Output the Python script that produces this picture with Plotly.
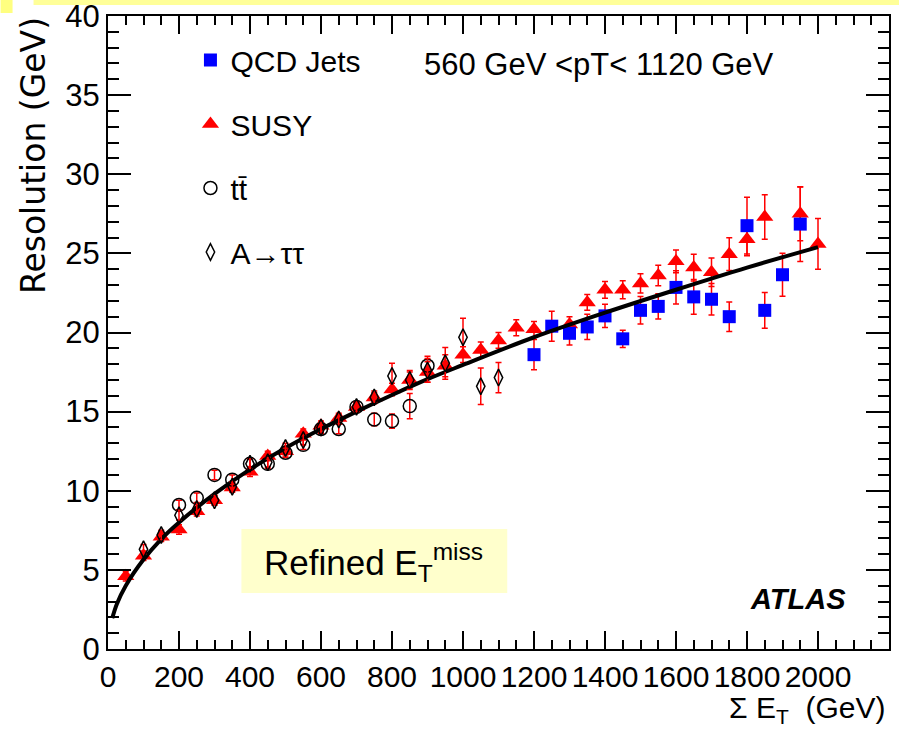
import plotly.graph_objects as go

# ---- data -------------------------------------------------------------
susy_x = [50, 100, 150, 200, 250, 300, 350, 400, 450, 500, 550, 600, 650, 700,
          750, 800, 850, 900, 950, 1000, 1050, 1100, 1150, 1200, 1300, 1350,
          1400, 1450, 1500, 1550, 1600, 1650, 1700, 1750, 1800, 1850, 1950, 2000]
susy_y = [4.6, 5.9, 7.1, 7.55, 8.7, 9.4, 10.2, 11.2, 12.2, 12.5, 13.6, 14.1, 14.6, 15.3,
          15.9, 16.4, 17.0, 17.5, 17.9, 18.6, 18.9, 19.5, 20.3, 20.2, 20.5, 21.9,
          22.7, 22.7, 23.1, 23.6, 24.5, 24.1, 23.8, 24.95, 25.9, 27.3, 27.5, 25.6]
susy_err = [0.3, 0.3, 0.3, 0.3, 0.3, 0.3, 0.3, 0.3, 0.3, 0.3, 0.3, 0.3, 0.3, 0.3,
            0.4, 0.4, 0.5, 0.65, 0.7, 0.5, 0.5, 0.5, 0.5, 0.5, 0.5, 0.5,
            0.53, 0.57, 0.61, 0.65, 0.72, 0.84, 0.9, 1.03, 1.05, 1.4, 1.7, 1.6]

qcd_x = [1200, 1250, 1300, 1350, 1400, 1450, 1500, 1550, 1600, 1650, 1700, 1750,
         1800, 1850, 1900, 1950]
qcd_y = [18.6, 20.4, 19.95, 20.35, 21.05, 19.6, 21.4, 21.65, 22.85, 22.25, 22.1, 21.0,
         26.75, 21.4, 23.65, 26.85]
qcd_err = [0.95, 0.95, 0.74, 0.8, 0.74, 0.55, 0.87, 0.8, 1.05, 1.1, 1.0, 0.93,
           1.79, 1.13, 1.36, 2.36]

ttbar_x = [200, 250, 300, 350, 400, 450, 500, 550, 600, 650, 700, 750, 800, 850, 900]
ttbar_y = [9.1, 9.55, 11.0, 10.7, 11.7, 11.7, 12.4, 12.9, 13.9, 13.9, 15.3, 14.5, 14.4,
           15.35, 17.9]
ttbar_err = [0.3, 0.3, 0.3, 0.3, 0.3, 0.3, 0.3, 0.3, 0.3, 0.3, 0.3, 0.4, 0.45, 0.8, 0.6]

atautau_x = [100, 150, 200, 250, 300, 350, 400, 450, 500, 550, 600, 650, 700, 750,
             800, 850, 900, 950, 1000, 1050, 1100]
atautau_y = [6.3, 7.2, 8.45, 8.85, 9.4, 10.25, 11.7, 11.8, 12.7, 13.2, 14.0, 14.5, 15.3,
             15.9, 17.25, 17.0, 17.6, 18.05, 19.7, 16.6, 17.15]
atautau_err = [0.3, 0.3, 0.3, 0.3, 0.3, 0.3, 0.3, 0.3, 0.3, 0.3, 0.3, 0.3, 0.3, 0.3,
               0.8, 0.6, 0.75, 1.0, 1.2, 1.15, 0.95]

# fitted resolution curve
fit_x = [12, 25, 50, 100, 150, 200, 300, 400, 500, 600, 700, 800, 900, 1000,
         1200, 1400, 1600, 1800, 2000]
fit_y = [1.95, 2.85, 4.0, 5.65, 6.95, 8.0, 9.8, 11.35, 12.7, 13.9, 15.0, 16.05, 17.05,
         17.95, 19.7, 21.25, 22.7, 24.1, 25.4]

x_ticks = [0, 200, 400, 600, 800, 1000, 1200, 1400, 1600, 1800, 2000]
y_ticks = [0, 5, 10, 15, 20, 25, 30, 35, 40]

# ---- figure -----------------------------------------------------------
W, H = 899, 730
L, R, T, B = 107.5, 10, 16, 81
PW, PH = W - L - R, H - T - B


def px(xp):
    return (xp - L) / PW


def py(yp):
    return (H - B - yp) / PH


ERR_RED = "#ff0000"


def err(vals):
    return dict(type="data", array=vals, color=ERR_RED, thickness=1.5, width=3)


fig = go.Figure()

fig.add_trace(go.Scatter(
    x=susy_x, y=susy_y, error_y=err(susy_err), mode="markers", name="SUSY",
    marker=dict(symbol="triangle-up", size=15, color="#ff0000", line=dict(width=0)),
    legendgroup="b", legendrank=2))

fig.add_trace(go.Scatter(
    x=qcd_x, y=qcd_y, error_y=err(qcd_err), mode="markers", name="QCD Jets",
    marker=dict(symbol="square", size=13, color="#0000ff", line=dict(width=0)),
    legendgroup="a", legendrank=1))

fig.add_trace(go.Scatter(
    x=fit_x, y=fit_y, mode="lines", line=dict(color="black", width=4, shape="spline"),
    showlegend=False, hoverinfo="skip"))

fig.add_trace(go.Scatter(
    x=ttbar_x, y=ttbar_y, error_y=err(ttbar_err), mode="markers", name="tt\u0304",
    marker=dict(symbol="circle-open", size=13, color="black", line=dict(width=1.5)),
    legendgroup="c", legendrank=3))

fig.add_trace(go.Scatter(
    x=atautau_x, y=atautau_y, error_y=err(atautau_err), mode="markers",
    name="A\u2192\u03c4\u03c4",
    marker=dict(symbol="diamond-tall-open", size=12, color="black", line=dict(width=1.5)),
    legendgroup="d", legendrank=4))

axis_common = dict(
    showgrid=False, zeroline=False, showline=True, linecolor="black", linewidth=2,
    mirror="ticks", ticks="inside", tickcolor="black", tickwidth=1.5,
    automargin=False,
)

fig.update_xaxes(range=[0, 2200], tickvals=x_ticks, ticktext=[str(v) for v in x_ticks],
                 tickangle=0, ticklen=18,
                 tickfont=dict(family="Liberation Sans, Arial", size=30, color="black"),
                 minor=dict(dtick=50, ticks="inside", ticklen=9,
                            tickcolor="black", tickwidth=1.5),
                 **axis_common)
fig.update_yaxes(range=[0, 40], tickvals=y_ticks, ticktext=[str(v) for v in y_ticks],
                 ticklen=23, ticklabeloverflow="allow",
                 tickfont=dict(family="Liberation Sans, Arial", size=31, color="black"),
                 minor=dict(dtick=1, ticks="inside", ticklen=11,
                            tickcolor="black", tickwidth=1.5),
                 **axis_common)

annotations = [
    dict(text="560 GeV &lt;pT&lt; 1120 GeV", x=px(422), y=py(64), xanchor="left",
         yanchor="middle", font=dict(family="Liberation Sans, Arial", size=31)),
    dict(text="Refined E<sub>T</sub><sup>miss</sup>", x=px(262), y=py(562),
         xanchor="left", yanchor="middle",
         font=dict(family="Liberation Sans, Arial", size=35)),
    dict(text="<b><i>ATLAS</i></b>", x=px(848), y=py(599), xanchor="right",
         yanchor="middle", font=dict(family="Liberation Sans, Arial", size=29)),
    dict(text="\u03a3 E<sub>T</sub>\u00a0\u00a0(GeV)", x=px(887), y=py(709),
         xanchor="right", yanchor="middle",
         font=dict(family="Liberation Sans, Arial", size=30)),
    dict(text="Resolution (GeV)", x=px(33), y=py(15), xanchor="center", yanchor="top",
         textangle=-90, font=dict(family="DejaVu Sans", size=33)),
]
for a in annotations:
    a.update(xref="paper", yref="paper", showarrow=False, font_color="black")

shapes = [
    # label box
    dict(type="rect", x0=px(241), x1=px(507), y0=py(593), y1=py(529),
         fillcolor="#ffffcc", line=dict(width=0), layer="below"),
    # slide strip along the top edge
    dict(type="rect", x0=px(33), x1=px(899), y0=py(5), y1=py(0),
         fillcolor="#ffff99", line=dict(width=0)),
    dict(type="rect", x0=px(0), x1=px(12), y0=py(13), y1=py(0),
         fillcolor="#ffff80", line=dict(width=0)),
]
for s in shapes:
    s.update(xref="paper", yref="paper")

fig.update_layout(
    width=W, height=H,
    margin=dict(l=L, r=R, t=T, b=B, pad=0, autoexpand=False),
    paper_bgcolor="white", plot_bgcolor="white",
    showlegend=True,
    legend=dict(x=px(190), y=py(34), xanchor="left", yanchor="top",
                bgcolor="rgba(0,0,0,0)", borderwidth=0,
                font=dict(family="Liberation Sans, Arial", size=30, color="black"),
                traceorder="grouped", tracegroupgap=22, itemsizing="trace"),
    annotations=annotations,
    shapes=shapes,
)

fig.write_html("out.html")
